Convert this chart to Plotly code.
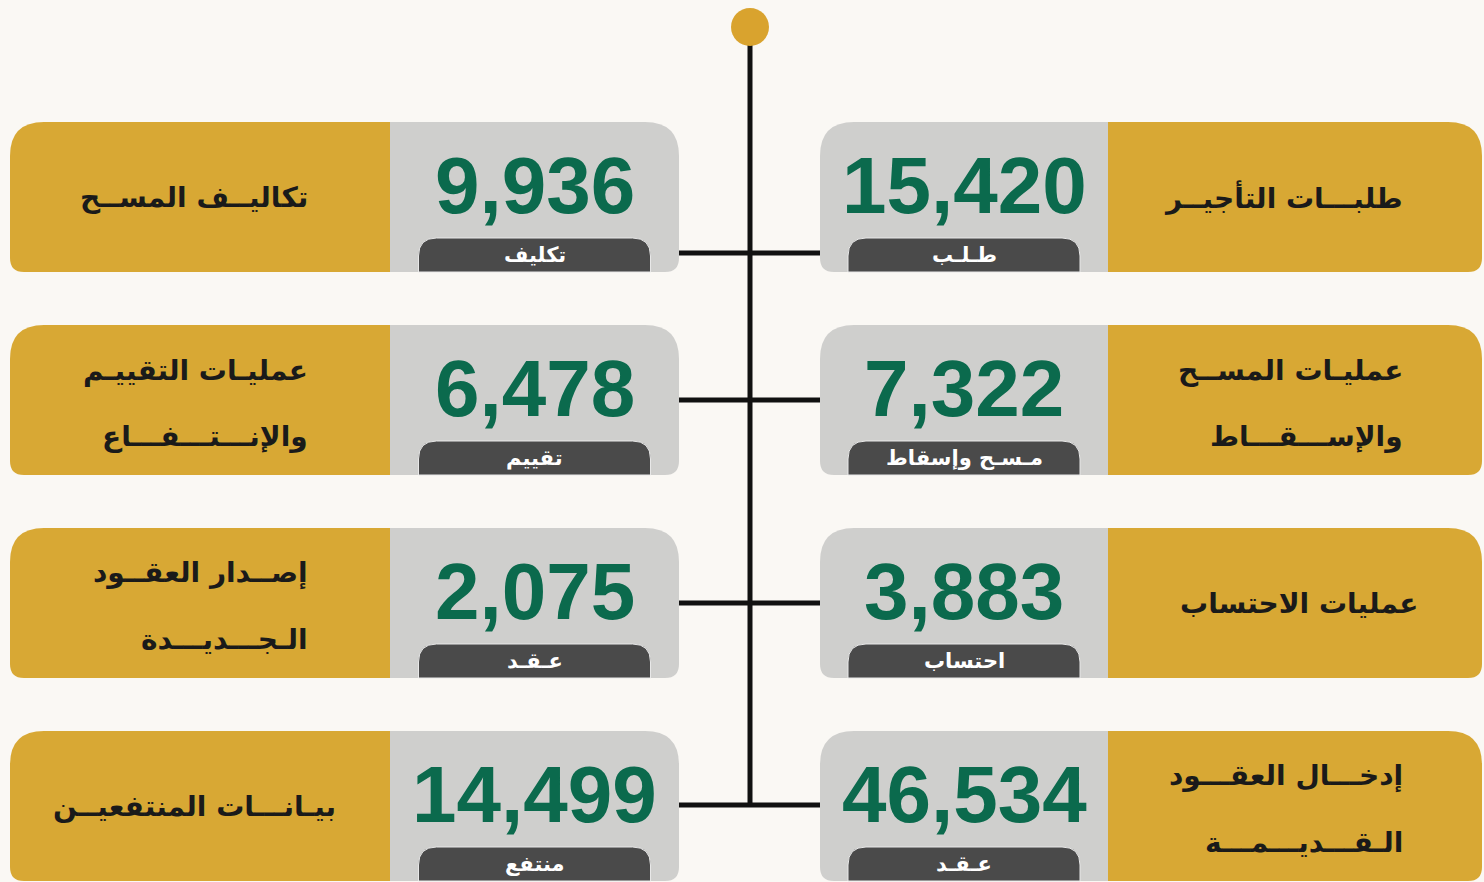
import plotly.graph_objects as go

# ---- data ----
left_values = [9936, 6478, 2075, 14499]
right_values = [15420, 7322, 3883, 46534]
left_units = ["تكليف", "تقييم", "عـقـد", "منتفع"]
right_units = ["طـلـب", "مـسـح وإسقاط", "احتساب", "عـقـد"]
left_labels = [
    ["تكاليــف المســح"],
    ["عمليـات التقييـم", "والإنـــتـــفـــاع"],
    ["إصــدار العقــود", "الـجـــديـــدة"],
    ["بيـانـــات المنتفعيــن"],
]
right_labels = [
    ["طلبـــات التأجيــر"],
    ["عمليـات المســح", "والإســـقـــاط"],
    ["عمليات الاحتساب"],
    ["إدخـــال العقـــود", "الـقـــديـــمـــة"],
]

# ---- style / layout constants ----
W, H = 1484, 882
BG = "#faf8f4"
GOLD = "#d8a834"
GREY = "#cfcfcd"
PILL = "#4a4a4a"
GREEN = "#0b6a4d"
ROW_TOP0, ROW_PITCH, CARD_H = 122, 203, 150
LEFT = dict(x0=10, split=390, x1=679, label_right=[310, 310, 310, 338])
RIGHT = dict(x0=820, split=1108, x1=1482, label_right=[1405, 1405, 1420, 1405])
CONNECT_OFF = [131, 75, 75, 74]
AR_FONT = "DejaVu Sans, Noto Sans, sans-serif"
NUM_FONT = "Liberation Sans, Arial, sans-serif"


def rpath(x0, y0, x1, y1, rtl=0, rtr=0, rbr=0, rbl=0):
    return (f"M {x0+rtl},{y0} L {x1-rtr},{y0} Q {x1},{y0} {x1},{y0+rtr} "
            f"L {x1},{y1-rbr} Q {x1},{y1} {x1-rbr},{y1} L {x0+rbl},{y1} "
            f"Q {x0},{y1} {x0},{y1-rbl} L {x0},{y0+rtl} Q {x0},{y0} {x0+rtl},{y0} Z")


fig = go.Figure()
shapes, annotations = [], []

# central stem
center_x = 750
shapes.append(dict(type="line", x0=center_x, x1=center_x, y0=40,
                   y1=ROW_TOP0 + 3 * ROW_PITCH + CONNECT_OFF[3],
                   line=dict(color="#111111", width=5), layer="below"))
shapes.append(dict(type="circle", x0=center_x - 19, x1=center_x + 19, y0=8, y1=46,
                   fillcolor="#d9a32e", line=dict(width=0)))

for i in range(4):
    top = ROW_TOP0 + i * ROW_PITCH
    bot = top + CARD_H
    cy = top + CONNECT_OFF[i]
    # connector
    shapes.append(dict(type="line", x0=LEFT["x1"], x1=RIGHT["x0"], y0=cy, y1=cy,
                       line=dict(color="#111111", width=5), layer="below"))

    # ---- left card: gold (label) | grey (number) ----
    shapes.append(dict(type="path", path=rpath(LEFT["x0"], top, LEFT["split"], bot, rtl=34, rbl=14),
                       fillcolor=GOLD, line=dict(width=0)))
    shapes.append(dict(type="path", path=rpath(LEFT["split"], top, LEFT["x1"], bot, rtr=34, rbr=14),
                       fillcolor=GREY, line=dict(width=0)))
    # ---- right card: grey (number) | gold (label) ----
    shapes.append(dict(type="path", path=rpath(RIGHT["x0"], top, RIGHT["split"], bot, rtl=34, rbl=14),
                       fillcolor=GREY, line=dict(width=0)))
    shapes.append(dict(type="path", path=rpath(RIGHT["split"], top, RIGHT["x1"], bot, rtr=34, rbr=14),
                       fillcolor=GOLD, line=dict(width=0)))

    for side, vals, units, labels in ((LEFT, left_values, left_units, left_labels),
                                      (RIGHT, right_values, right_units, right_labels)):
        if side is LEFT:
            gx0, gx1 = side["split"], side["x1"]
        else:
            gx0, gx1 = side["x0"], side["split"]
        ncx = (gx0 + gx1) / 2
        # pill
        shapes.append(dict(type="path",
                           path=rpath(ncx - 116, top + 116, ncx + 116, bot, rtl=18, rtr=18),
                           fillcolor=PILL, line=dict(color="#e8e8e8", width=1)))
        annotations.append(dict(x=ncx, y=top + 133, text=f"<b>{units[i]}</b>", showarrow=False,
                                font=dict(family=AR_FONT, size=21, color="white"),
                                xanchor="center", yanchor="middle"))
        # number
        annotations.append(dict(x=ncx, y=top + 63, text=f"<b>{vals[i]:,}</b>", showarrow=False,
                                font=dict(family=NUM_FONT, size=80, color=GREEN),
                                xanchor="center", yanchor="middle"))
        # label
        lines = labels[i]
        ys = [top + 75] if len(lines) == 1 else [top + 45, top + 111]
        for txt, ly in zip(lines, ys):
            annotations.append(dict(x=side["label_right"][i], y=ly, text=f"<b>{txt}</b>",
                                    showarrow=False,
                                    font=dict(family=AR_FONT, size=28, color="#1a1a1a"),
                                    xanchor="right", yanchor="middle"))

fig.update_layout(
    width=W, height=H, margin=dict(l=0, r=0, t=0, b=0),
    paper_bgcolor=BG, plot_bgcolor=BG, showlegend=False,
    xaxis=dict(range=[0, W], visible=False, fixedrange=True),
    yaxis=dict(range=[H, 0], visible=False, fixedrange=True),
    shapes=shapes, annotations=annotations,
)
fig.write_html("out.html", config={"displayModeBar": False},
               post_script="document.body.style.margin='0';document.body.style.background='#faf8f4';")
